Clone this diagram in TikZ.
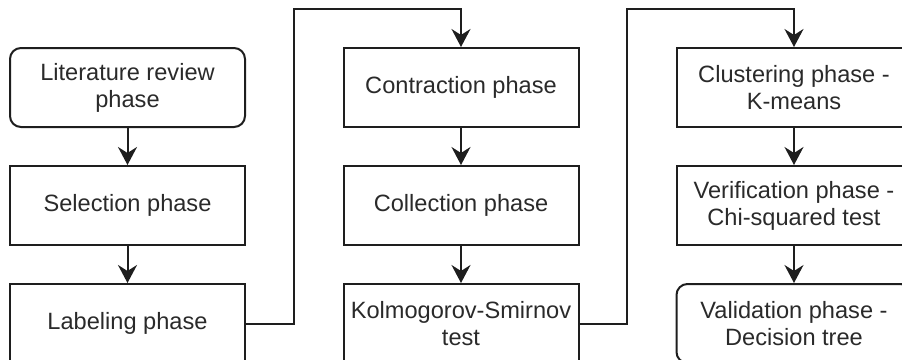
\documentclass[tikz,border=0pt]{standalone}
\usepackage{fontspec}
\setmainfont{Liberation Sans}
\usetikzlibrary{arrows.meta}
\definecolor{linec}{HTML}{1E1E1E}
\definecolor{textc}{HTML}{2A2A2A}
\tikzset{
  phasebox/.style={draw=linec, line width=2pt, minimum width=235pt, minimum height=79pt,
    inner sep=0pt, align=center, text=textc, font=\fontsize{23.6}{27}\selectfont},
  roundbox/.style={phasebox, rounded corners=11pt},
  flow/.style={draw=linec, line width=2pt, -{Stealth[length=18pt,width=19pt,inset=6pt]}}
}
\begin{document}
\begin{tikzpicture}[x=1pt,y=-1pt]
\useasboundingbox (0,0) rectangle (902,359);
\clip (0,0) rectangle (902,359);
\node[roundbox] (lit) at (127.5,87.5) {Literature review\\phase};
\node[phasebox] (sel) at (127.5,205.5) {Selection phase};
\node[phasebox] (lab) at (127.5,323.5) {Labeling phase};
\node[phasebox] (con) at (461,87.5) {Contraction phase};
\node[phasebox] (col) at (461,205.5) {Collection phase};
\node[phasebox] (ks) at (461,323.5) {Kolmogorov-Smirnov\\test};
\node[phasebox] (clu) at (794,87.5) {Clustering phase -\\K-means};
\node[phasebox] (ver) at (794,205.5) {Verification phase -\\Chi-squared test};
\node[roundbox] (val) at (794,323.5) {Validation phase -\\Decision tree};
\coordinate (j1) at (294,9);
\coordinate (j2) at (627,9);
\draw[flow] (lit) -- (sel);
\draw[flow] (sel) -- (lab);
\draw[flow] (con) -- (col);
\draw[flow] (col) -- (ks);
\draw[flow] (clu) -- (ver);
\draw[flow] (ver) -- (val);
\draw[flow] (lab.east) -| (j1) -| (con.north);
\draw[flow] (ks.east) -| (j2) -| (clu.north);
\end{tikzpicture}
\end{document}
